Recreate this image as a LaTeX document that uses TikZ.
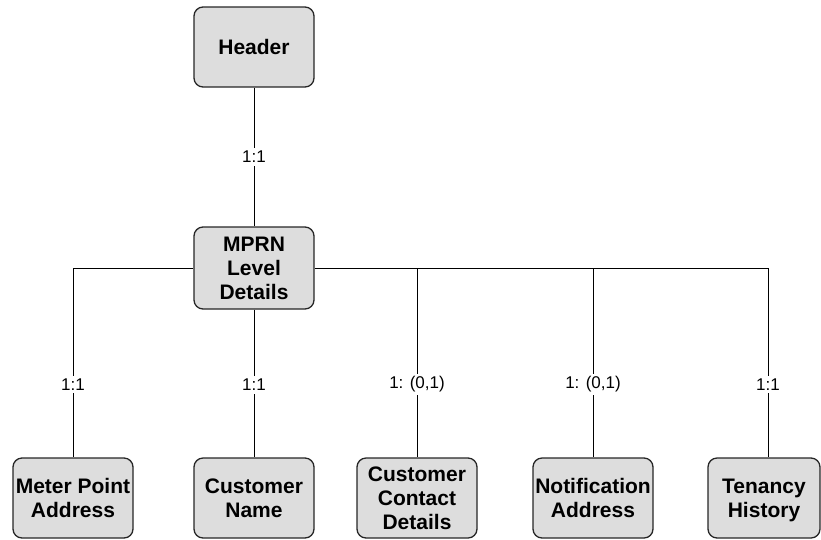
\documentclass[tikz,border=0pt]{standalone}
\usepackage{amsmath}
\usepackage{fontspec}
\setmainfont{Liberation Sans}
\definecolor{boxgray}{RGB}{221,221,221}
\begin{document}
\begin{tikzpicture}[x=1pt,y=-1pt,
  box/.style={draw=black!85, line width=1.3pt, rounded corners=9pt, fill=boxgray,
    minimum width=120pt, minimum height=80pt, align=center,
    font=\bfseries\fontsize{21}{24}\selectfont, inner sep=0pt},
  lab/.style={fill=white, font=\fontsize{17}{20}\selectfont, inner sep=3pt},
  link/.style={line width=0.8pt}]
\useasboundingbox (0,0) rectangle (821,539);
\node[box] (header) at (254,47) {Header};
\node[box, minimum height=82pt] (mprn) at (254,268) {MPRN\\Level\\Details};
\node[box] (meter) at (73,498) {Meter Point\\Address};
\node[box] (cname) at (254,498) {Customer\\Name};
\node[box] (contact) at (417,498) {Customer\\Contact\\Details};
\node[box] (notif) at (593,498) {Notification\\Address};
\node[box, minimum width=112pt] (tenancy) at (764,498) {Tenancy\\\smash[b]{History}};
\coordinate (bl) at (73,268);
\coordinate (c3) at (417,268);
\coordinate (c4) at (593,268);
\coordinate (br) at (768,268);
\draw[link] (header) -- node[lab] {1:1} (mprn);
\draw[link] (mprn.west) -- (bl);
\draw[link] (mprn.east) -- (br);
\draw[link] (bl) -- node[lab, pos=0.615] {1:1} (meter.north);
\draw[link] (mprn.south) -- node[lab, pos=0.51] {1:1} (cname.north);
\draw[link] (c3) -- node[lab, pos=0.615] {1: (0,1)} (contact.north);
\draw[link] (c4) -- node[lab, pos=0.615] {1: (0,1)} (notif.north);
\draw[link] (br) -- node[lab, pos=0.615] {1:1} (br |- tenancy.north);
\end{tikzpicture}
\end{document}
